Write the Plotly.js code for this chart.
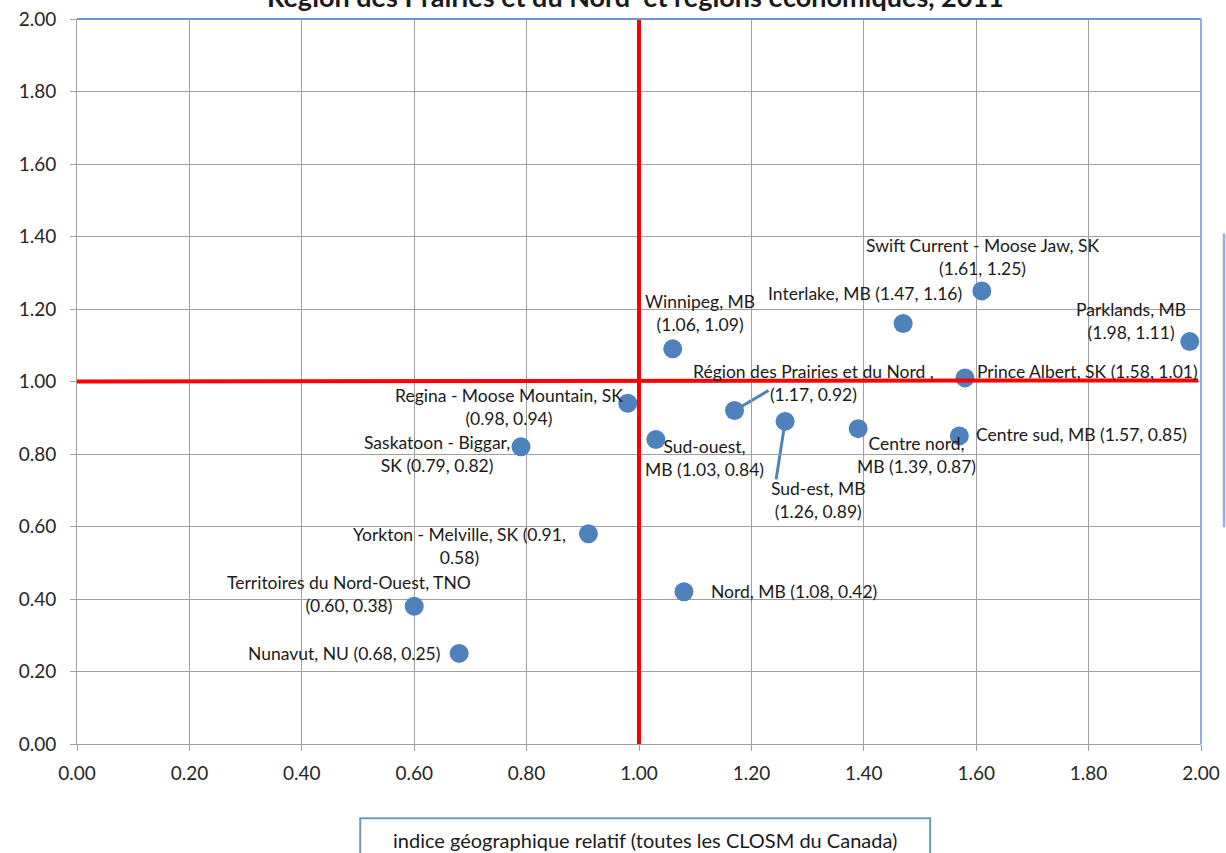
<!DOCTYPE html>
<html>
<head>
<meta charset="utf-8">
<script src="https://cdn.plot.ly/plotly-3.0.1.min.js"></script>
<style>html,body{margin:0;padding:0;background:#fff;}#chart{width:1226px;height:853px;}</style>
</head>
<body>
<div id="chart"></div>
<script>
// ---- data ----
const regions = [
  "Swift Current - Moose Jaw, SK", "Interlake, MB", "Parklands, MB", "Winnipeg, MB",
  "Prince Albert, SK", "Région des Prairies et du Nord", "Regina - Moose Mountain, SK",
  "Sud-est, MB", "Centre nord, MB", "Centre sud, MB", "Sud-ouest, MB",
  "Saskatoon - Biggar, SK", "Yorkton - Melville, SK", "Nord, MB",
  "Territoires du Nord-Ouest, TNO", "Nunavut, NU"
];
const xValues = [1.61, 1.47, 1.98, 1.06, 1.58, 1.17, 0.98, 1.26, 1.39, 1.57, 1.03, 0.79, 0.91, 1.08, 0.60, 0.68];
const yValues = [1.25, 1.16, 1.11, 1.09, 1.01, 0.92, 0.94, 0.89, 0.87, 0.85, 0.84, 0.82, 0.58, 0.42, 0.38, 0.25];
const labels = [
  "Swift Current - Moose Jaw, SK<br>(1.61, 1.25)",
  "Interlake, MB (1.47, 1.16)",
  "Parklands, MB<br>(1.98, 1.11)",
  "Winnipeg, MB<br>(1.06, 1.09)",
  "Prince Albert, SK (1.58, 1.01)",
  "Région des Prairies et du Nord ,<br>(1.17, 0.92)",
  "Regina - Moose Mountain, SK<br>(0.98, 0.94)",
  "Sud-est, MB<br>(1.26, 0.89)",
  "Centre nord,<br>MB (1.39, 0.87)",
  "Centre sud, MB (1.57, 0.85)",
  "Sud-ouest,<br>MB (1.03, 0.84)",
  "Saskatoon - Biggar,<br>SK (0.79, 0.82)",
  "Yorkton - Melville, SK (0.91,<br>0.58)",
  "Nord, MB (1.08, 0.42)",
  "Territoires du Nord-Ouest, TNO<br>(0.60, 0.38)",
  "Nunavut, NU (0.68, 0.25)"
];
const tickVals = [0, 0.2, 0.4, 0.6, 0.8, 1.0, 1.2, 1.4, 1.6, 1.8, 2.0];
const tickText = ["0.00","0.20","0.40","0.60","0.80","1.00","1.20","1.40","1.60","1.80","2.00"];
const refX = 1.0, refY = 1.0;
const titleText = "Région des Prairies et du Nord  et régions économiques, 2011";
const xTitleText = "indice géographique relatif (toutes les CLOSM du Canada)";

// ---- label placement (pixel offsets from each point: [dx, dy(down)]) ----
const labelOffsets = [
  [1, -34], [-38, -30], [-59, -21], [27, -36], [123, -6], [79, -28], [-119, 4],
  [33, 79], [58, 26], [122, -1], [49, 18], [-84, 7], [-129, 12], [110, 0],
  [-65, -12], [-115, 0]
];
// leader lines: [index, dx, dy(down)]
const leaders = [[5, 34, -20], [7, -9, 58]];

const FONT = "Lato, 'Open Sans', sans-serif";
const BLUE = "#4f81bd";

const annotations = labels.map((t, i) => ({
  x: xValues[i], y: yValues[i], xref: "x", yref: "y",
  text: t, showarrow: false,
  xanchor: "center", yanchor: "middle",
  xshift: labelOffsets[i][0], yshift: -labelOffsets[i][1],
  font: {family: FONT, size: 17.5, color: "#1a1a1a"}
}));
annotations.push({
  xref: "paper", yref: "paper", x: 0.505, y: -0.133,
  xanchor: "center", yanchor: "middle", showarrow: false,
  text: xTitleText, font: {family: FONT, size: 20, color: "#1a1a1a"}
});
annotations.push({
  xref: "paper", yref: "paper", x: 0.497, y: 1, yshift: 23,
  xanchor: "center", yanchor: "middle", showarrow: false,
  text: "<b>" + titleText + "</b>", font: {family: FONT, size: 27, color: "#1a1a1a"}
});

const shapes = [
  {type: "line", xref: "x", yref: "y", x0: refX, x1: refX, y0: 0, y1: 2.005, line: {color: "#ff0000", width: 4}, layer: "above"},
  {type: "line", xref: "x", yref: "y", x0: 0, x1: 1.995, y0: refY, y1: refY + 0.003, line: {color: "#ff0000", width: 4}, layer: "above"},
  {type: "line", xref: "paper", yref: "paper", x0: 0, x1: 1, y0: 1, y1: 1, line: {color: "#6b96d2", width: 2}},
  {type: "line", xref: "paper", yref: "paper", x0: 1, x1: 1, y0: 0, y1: 1, line: {color: "#8fb0df", width: 2}},
  {type: "rect", xref: "paper", yref: "paper", x0: 0.252, x1: 0.759, y0: -0.1025, y1: -0.2, line: {color: "#6b96d2", width: 2}},
  {type: "line", xref: "paper", yref: "paper", x0: 1.0205, x1: 1.0205, y0: 0.299, y1: 0.704, line: {color: "#8fb0df", width: 2.5}}
];
leaders.forEach(([i, dx, dy]) => {
  shapes.push({
    type: "line", xref: "x", yref: "y",
    xsizemode: "pixel", xanchor: xValues[i], x0: 0, x1: dx,
    ysizemode: "pixel", yanchor: yValues[i], y0: 0, y1: -dy,
    line: {color: BLUE, width: 3}, layer: "below"
  });
});

const trace = {
  type: "scatter", mode: "markers",
  x: xValues, y: yValues, text: regions,
  marker: {color: BLUE, size: 19, line: {width: 0}},
  hoverinfo: "text+x+y"
};

const axisCommon = {
  range: [0, 2], tickvals: tickVals, ticktext: tickText,
  showgrid: true, gridcolor: "#a0a0a0", gridwidth: 1,
  showline: true, linecolor: "#a0a0a0", linewidth: 1,
  ticks: "outside", ticklen: 6, tickcolor: "#a0a0a0",
  zeroline: false,
  tickfont: {family: FONT, size: 19, color: "#262626"}
};

const layout = {
  width: 1226, height: 853,
  margin: {l: 77, r: 24.5, t: 18.5, b: 108.7, pad: 0},
  paper_bgcolor: "#ffffff", plot_bgcolor: "#ffffff",
  showlegend: false,
  xaxis: Object.assign({}, axisCommon, {ticklabelstandoff: 6}),
  yaxis: Object.assign({}, axisCommon, {ticklabelstandoff: 10}),
  annotations: annotations,
  shapes: shapes
};

Plotly.newPlot("chart", [trace], layout, {displayModeBar: false, staticPlot: true});
</script>
</body>
</html>
